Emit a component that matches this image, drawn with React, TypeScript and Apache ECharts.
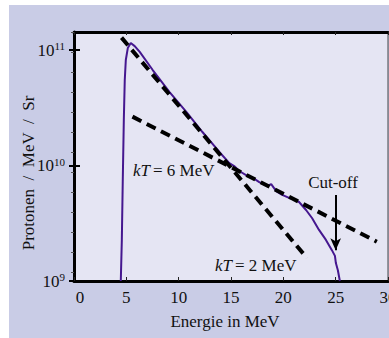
import React, { useEffect, useRef } from "react";
import * as echarts from "echarts";

// Spectrum (energy in MeV, protons / MeV / sr)
const spectrumE = [4.47, 4.57, 4.66, 4.76, 4.85, 4.95, 5.14, 5.42, 5.8, 6.28, 7.52, 9.13, 10.75, 12.27, 13.89, 14.84, 15.3, 15.79, 16.75, 17.2, 17.7, 18.46, 18.84, 19.32, 19.89, 20.55, 21.0, 21.5, 22.17, 22.74, 23.41, 24.07, 24.64, 24.93, 25.02, 25.21, 25.4];
const spectrumFlux = [1e9, 2.27e9, 7.48e9, 2.48e10, 5.5e10, 8.19e10, 1.04e11, 1.15e11, 1.08e11, 9.62e10, 6.71e10, 4.32e10, 2.9e10, 1.95e10, 1.31e10, 1.05e10, 9.9e9, 8.96e9, 7.94e9, 7.7e9, 7.19e9, 6.65e9, 6.9e9, 6.01e9, 5.56e9, 5.24e9, 5.1e9, 4.83e9, 4.12e9, 3.51e9, 2.77e9, 2.27e9, 1.85e9, 1.65e9, 1.43e9, 1.24e9, 1e9];

// Fit lines
const fit2E = [4.54, 22.26];
const fit2Flux = [1.28e11, 1.58e9];
const fit6E = [5.585, 28.93];
const fit6Flux = [2.65e10, 2.19e9];

// Cut-off arrow
const cutoffE = 25;
const cutoffFluxFrom = 5.56e9;
const cutoffFluxTo = 1.85e9;

const SERIF = "Liberation Serif";

export default function App() {
  const ref = useRef<HTMLDivElement>(null);
  useEffect(() => {
    if (!ref.current) return;
    const chart = echarts.init(ref.current, undefined, { renderer: "svg" });
    const yLabelFmt = (v: number) => {
      const e = Math.log10(v);
      const r = Math.round(e);
      if (Math.abs(e - r) > 1e-6) return "";
      return `{b|10}{s|${r}}`;
    };
    const txt = (extra: any) => ({ fontSize: 17, fontFamily: SERIF, fill: "#111", ...extra });
    const option: any = {
      animation: false,
      backgroundColor: "transparent",
      textStyle: { fontFamily: SERIF },
      grid: [
        { left: 74, top: 32, width: 314, height: 249, show: true, backgroundColor: "#e5e5f3", borderColor: "#444", borderWidth: 1 },
        { left: 74, top: 32, width: 314, height: 240, show: false },
      ],
      xAxis: [
        {
          type: "value", gridIndex: 0, min: 0, max: 30, interval: 5, position: "bottom",
          axisLine: { show: true, onZero: false, lineStyle: { color: "#000", width: 3 } },
          axisTick: { show: true, inside: true, length: 4, lineStyle: { color: "#222", width: 1 } },
          axisLabel: {
            show: true, fontSize: 17, fontFamily: SERIF, color: "#111", margin: 8,
            formatter: (v: number) => (v === 0 ? "{z|0}" : `${v}`),
            rich: { z: { fontSize: 17, fontFamily: SERIF, color: "#111", padding: [0, 0, 0, 12] } },
          },
          splitLine: { show: false },
        },
        {
          type: "value", gridIndex: 0, min: 0, max: 30, interval: 5, position: "top",
          axisLine: { show: true, onZero: false, lineStyle: { color: "#000", width: 3 } },
          axisTick: { show: true, inside: true, length: 3, lineStyle: { color: "#222", width: 1 } },
          axisLabel: { show: false },
          splitLine: { show: false },
        },
        { type: "value", gridIndex: 1, min: 0, max: 30, show: false },
      ],
      yAxis: [
        {
          type: "log", logBase: 10, gridIndex: 0, min: 1e9, max: 1.432e11, splitNumber: 2, position: "left",
          axisLine: { show: true, onZero: false, lineStyle: { color: "#000", width: 3 } },
          axisTick: { show: true, inside: false, length: 5, lineStyle: { color: "#000", width: 2 } },
          axisLabel: {
            show: true, margin: 9, formatter: yLabelFmt, showMaxLabel: false,
            rich: {
              b: { fontSize: 17, fontFamily: SERIF, color: "#111", lineHeight: 20 },
              s: { fontSize: 11, fontFamily: SERIF, color: "#111", lineHeight: 20, padding: [0, 0, 8, 0] },
            },
          },
          splitLine: { show: false },
          minorTick: { show: false },
        },
        {
          type: "log", logBase: 10, gridIndex: 0, min: 1e9, max: 1.432e11, splitNumber: 2, position: "left",
          axisLine: { show: false },
          axisTick: { show: true, inside: true, length: 6, lineStyle: { color: "#000", width: 2 } },
          axisLabel: { show: false },
          splitLine: { show: false },
        },
        {
          type: "value", gridIndex: 1, min: 0, max: 12, interval: 1, position: "right",
          axisLine: { show: false },
          axisTick: { show: true, inside: true, length: 3, lineStyle: { color: "#555", width: 1 } },
          axisLabel: { show: false },
          splitLine: { show: false },
        },
      ],
      series: [
        {
          type: "line", xAxisIndex: 0, yAxisIndex: 0, showSymbol: false, symbol: "none",
          data: spectrumE.map((e, i) => [e, spectrumFlux[i]]),
          lineStyle: { color: "#45178f", width: 2 },
          z: 2,
          markLine: {
            silent: true, symbol: ["none", "arrow"], symbolSize: [8, 12],
            label: { show: false },
            lineStyle: { color: "#000", width: 2, type: "solid" },
            data: [[{ coord: [cutoffE, cutoffFluxFrom] }, { coord: [cutoffE, cutoffFluxTo] }]],
          },
        },
        {
          type: "line", xAxisIndex: 0, yAxisIndex: 0, showSymbol: false, symbol: "none",
          data: fit2E.map((e, i) => [e, fit2Flux[i]]),
          lineStyle: { color: "#000", width: 4, type: [10, 6] },
          z: 3,
        },
        {
          type: "line", xAxisIndex: 0, yAxisIndex: 0, showSymbol: false, symbol: "none",
          data: fit6E.map((e, i) => [e, fit6Flux[i]]),
          lineStyle: { color: "#000", width: 4, type: [10, 6] },
          z: 3,
        },
      ],
      graphic: [
        {
          type: "text", x: 28, y: 173, rotation: Math.PI / 2,
          style: txt({ text: "Protonen  /  MeV  /  Sr", fontSize: 17, align: "center", verticalAlign: "middle" }),
        },
        {
          type: "text", x: 225, y: 321,
          style: txt({ text: "Energie in MeV", align: "center", verticalAlign: "middle" }),
        },
        {
          type: "text", x: 333, y: 182,
          style: txt({ text: "Cut-off", align: "center", verticalAlign: "middle" }),
        },
        {
          type: "text", x: 133, y: 170,
          style: txt({
            text: "{i|kT}{n|= 6 MeV}", align: "left", verticalAlign: "middle",
            rich: { i: { fontStyle: "italic", fontSize: 17, fontFamily: SERIF, fill: "#111", padding: [0, 3, 0, 0] }, n: { fontSize: 17, fontFamily: SERIF, fill: "#111" } },
          }),
        },
        {
          type: "text", x: 215, y: 265,
          style: txt({
            text: "{i|kT}{n|= 2 MeV}", align: "left", verticalAlign: "middle",
            rich: { i: { fontStyle: "italic", fontSize: 17, fontFamily: SERIF, fill: "#111", padding: [0, 3, 0, 0] }, n: { fontSize: 17, fontFamily: SERIF, fill: "#111" } },
          }),
        },
      ],
    };
    chart.setOption(option);
    return () => chart.dispose();
  }, []);
  return (
    <div style={{ position: "fixed", left: 0, top: 0, width: 389, height: 338, overflow: "hidden", background: "#fff" }}>
      <div style={{ position: "absolute", left: 9, top: 5, right: 0, bottom: 0, background: "#c9cce6" }} />
      <div ref={ref} style={{ position: "absolute", left: 0, top: 0, width: 420, height: 338 }} />
    </div>
  );
}
